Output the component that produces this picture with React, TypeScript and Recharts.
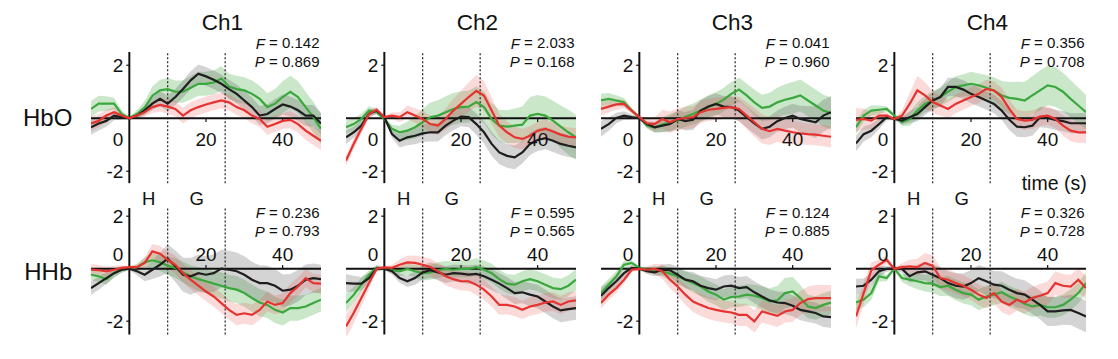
import React from 'react';
import { ComposedChart, Line, Area, XAxis, YAxis, ReferenceLine, ReferenceDot } from 'recharts';

// ---------------- data ----------------
const TIME = [-10, -8, -6, -4, -2, 0, 2, 4, 6, 8, 10, 12, 14, 16, 18, 20, 22, 24, 26, 28, 30, 32, 34, 36, 38, 40, 42, 44, 46, 48, 50];
const CHANNELS = ['Ch1', 'Ch2', 'Ch3', 'Ch4'];
const ROW_LABELS = ['HbO', 'HHb'];
const F_HBO = ['0.142', '2.033', '0.041', '0.356'];
const P_HBO = ['0.869', '0.168', '0.960', '0.708'];
const F_HHB = ['0.236', '0.595', '0.124', '0.326'];
const P_HHB = ['0.793', '0.565', '0.885', '0.728'];
const X_TICKS = [0, 20, 40];
const Y_TICKS = [2, -2];
const MARKERS = [10, 25];
const PHASES = [{ label: 'H', t: 5 }, { label: 'G', t: 17.5 }];
const X_LABEL = 'time (s)';

// Ch1 HbO
const c1_hbo_k = [-0.34, -0.2, -0.1, 0.1, 0.04, 0, 0.1, 0.3, 0.55, 0.73, 0.55, 0.8, 1.1, 1.43, 1.68, 1.58, 1.45, 1.3, 1.1, 0.92, 0.67, 0.42, 0.1, 0.16, 0.35, 0.52, 0.44, 0.3, 0.1, 0.1, -0.2];
const c1_hbo_g = [0.35, 0.55, 0.55, 0.55, 0.16, 0, 0.16, 0.4, 0.85, 1.05, 1.1, 1.0, 1.0, 1.15, 1.3, 1.3, 1.35, 1.5, 1.2, 1.1, 1.05, 0.92, 0.73, 0.42, 0.55, 0.8, 1.0, 0.8, 0.42, 0.04, -0.4];
const c1_hbo_r = [-0.2, -0.1, 0.1, 0.23, 0.1, 0, 0.1, 0.23, 0.42, 0.5, 0.44, 0.35, 0.1, 0.3, 0.42, 0.52, 0.6, 0.67, 0.6, 0.42, 0.3, 0.1, -0.03, -0.32, -0.22, -0.1, -0.06, -0.22, -0.47, -0.66, -0.85];
const c1_hbo_ks = [0.28, 0.26, 0.22, 0.18, 0.1, 0.05, 0.12, 0.18, 0.24, 0.28, 0.3, 0.3, 0.32, 0.34, 0.35, 0.35, 0.35, 0.35, 0.35, 0.35, 0.36, 0.36, 0.36, 0.36, 0.38, 0.38, 0.38, 0.4, 0.4, 0.4, 0.4];
const c1_hbo_gs = [0.3, 0.3, 0.28, 0.22, 0.14, 0.05, 0.15, 0.25, 0.35, 0.4, 0.42, 0.42, 0.42, 0.44, 0.45, 0.45, 0.45, 0.46, 0.48, 0.5, 0.5, 0.5, 0.5, 0.52, 0.55, 0.6, 0.6, 0.6, 0.58, 0.58, 0.58];
const c1_hbo_rs = [0.28, 0.25, 0.22, 0.18, 0.12, 0.05, 0.12, 0.18, 0.22, 0.25, 0.27, 0.28, 0.3, 0.3, 0.3, 0.3, 0.3, 0.3, 0.3, 0.3, 0.3, 0.3, 0.3, 0.3, 0.3, 0.3, 0.32, 0.32, 0.34, 0.35, 0.35];

// Ch1 HHb
const c1_hhb_k = [-0.74, -0.55, -0.36, -0.17, -0.04, 0, -0.1, -0.23, -0.04, 0.15, 0.38, 0.09, -0.23, -0.29, -0.17, -0.23, -0.17, 0, -0.04, -0.1, -0.23, -0.42, -0.55, -0.55, -0.65, -0.84, -0.8, -0.65, -0.42, -0.36, -0.4];
const c1_hhb_g = [-0.23, -0.29, -0.4, -0.17, -0.04, 0, 0.06, 0.24, 0.32, 0.24, 0.11, 0.03, -0.14, -0.29, -0.4, -0.48, -0.57, -0.65, -0.74, -0.8, -0.93, -1.12, -1.29, -1.38, -1.57, -1.67, -1.5, -1.5, -1.44, -1.31, -1.18];
const c1_hhb_r = [-0.04, -0.06, -0.1, -0.04, 0.03, 0.06, 0.06, 0.22, 0.66, 0.57, 0.34, 0.15, -0.17, -0.42, -0.65, -0.87, -1.06, -1.31, -1.57, -1.76, -1.7, -1.76, -1.57, -1.25, -1.38, -1.31, -0.93, -0.68, -0.36, -0.55, -0.57];
const c1_hhb_ks = [0.25, 0.25, 0.22, 0.18, 0.12, 0.05, 0.15, 0.25, 0.35, 0.45, 0.55, 0.6, 0.65, 0.7, 0.7, 0.7, 0.72, 0.72, 0.72, 0.72, 0.7, 0.68, 0.68, 0.66, 0.64, 0.62, 0.6, 0.6, 0.58, 0.56, 0.55];
const c1_hhb_gs = [0.22, 0.22, 0.2, 0.16, 0.1, 0.05, 0.12, 0.2, 0.28, 0.32, 0.35, 0.38, 0.4, 0.42, 0.45, 0.45, 0.48, 0.5, 0.5, 0.52, 0.52, 0.52, 0.52, 0.5, 0.5, 0.5, 0.48, 0.48, 0.45, 0.45, 0.45];
const c1_hhb_rs = [0.22, 0.2, 0.18, 0.15, 0.1, 0.05, 0.12, 0.2, 0.28, 0.3, 0.32, 0.34, 0.35, 0.36, 0.36, 0.36, 0.38, 0.38, 0.38, 0.4, 0.4, 0.4, 0.38, 0.38, 0.36, 0.36, 0.36, 0.35, 0.35, 0.35, 0.35];

// Ch2 HbO
const c2_hbo_k = [-0.72, -0.53, -0.28, 0.16, 0.29, 0.04, -0.6, -0.85, -0.72, -0.66, -0.57, -0.53, -0.53, -0.28, -0.09, 0.06, 0.04, -0.22, -0.53, -0.97, -1.29, -1.42, -1.48, -1.29, -0.97, -0.82, -0.75, -0.85, -0.97, -1.04, -1.1];
const c2_hbo_g = [-0.34, -0.22, -0.03, 0.29, 0.23, -0.03, -0.4, -0.53, -0.47, -0.34, -0.15, 0.04, 0.1, 0.23, 0.35, 0.42, 0.44, 0.61, 0.42, -0.03, -0.28, -0.32, -0.28, -0.24, 0.1, 0.16, 0.1, -0.09, -0.32, -0.53, -0.72];
const c2_hbo_r = [-1.6, -0.97, -0.4, 0.16, 0.32, 0.04, 0.1, 0.04, 0.23, 0.1, -0.03, -0.22, -0.28, -0.03, 0.29, 0.54, 0.8, 1.03, 0.86, 0.29, -0.28, -0.53, -0.72, -0.78, -0.66, -0.47, -0.4, -0.5, -0.62, -0.7, -0.72];
const c2_hbo_ks = [0.25, 0.22, 0.2, 0.15, 0.1, 0.05, 0.15, 0.25, 0.3, 0.32, 0.33, 0.35, 0.35, 0.35, 0.36, 0.36, 0.38, 0.4, 0.42, 0.45, 0.45, 0.45, 0.45, 0.42, 0.42, 0.42, 0.42, 0.42, 0.42, 0.42, 0.42];
const c2_hbo_gs = [0.25, 0.22, 0.2, 0.16, 0.1, 0.05, 0.15, 0.25, 0.35, 0.42, 0.5, 0.55, 0.58, 0.6, 0.6, 0.6, 0.6, 0.6, 0.6, 0.6, 0.6, 0.62, 0.65, 0.68, 0.7, 0.72, 0.72, 0.75, 0.8, 0.85, 0.85];
const c2_hbo_rs = [0.2, 0.2, 0.18, 0.15, 0.12, 0.05, 0.12, 0.18, 0.25, 0.28, 0.3, 0.32, 0.35, 0.4, 0.45, 0.5, 0.55, 0.6, 0.55, 0.5, 0.45, 0.42, 0.4, 0.38, 0.36, 0.35, 0.35, 0.35, 0.35, 0.35, 0.35];

// Ch2 HHb
const c2_hhb_k = [-0.55, -0.57, -0.57, -0.36, 0, 0, -0.1, -0.36, -0.48, -0.36, -0.14, -0.06, -0.14, -0.23, -0.17, -0.19, -0.23, -0.2, -0.29, -0.42, -0.57, -0.74, -0.93, -0.9, -0.99, -1.06, -1.25, -1.44, -1.59, -1.54, -1.5];
const c2_hhb_g = [-1.31, -1.0, -0.61, -0.23, 0.03, 0, -0.06, -0.1, -0.01, -0.1, -0.17, -0.14, -0.06, -0.01, -0.04, -0.01, -0.01, 0.06, -0.04, -0.17, -0.4, -0.57, -0.61, -0.48, -0.4, -0.48, -0.61, -0.74, -0.78, -0.65, -0.42];
const c2_hhb_r = [-2.2, -1.69, -1.12, -0.55, 0, 0.05, 0.03, 0.15, 0.24, 0.22, 0.15, 0.06, -0.1, -0.29, -0.4, -0.48, -0.48, -0.61, -0.8, -1.06, -1.38, -1.38, -1.44, -1.57, -1.44, -1.38, -1.29, -1.25, -1.38, -1.25, -1.21];
const c2_hhb_ks = [0.35, 0.3, 0.25, 0.2, 0.12, 0.05, 0.12, 0.18, 0.22, 0.25, 0.28, 0.3, 0.3, 0.32, 0.32, 0.34, 0.35, 0.36, 0.38, 0.4, 0.4, 0.42, 0.42, 0.42, 0.44, 0.45, 0.45, 0.45, 0.45, 0.45, 0.45];
const c2_hhb_gs = [0.35, 0.3, 0.25, 0.18, 0.1, 0.05, 0.12, 0.18, 0.22, 0.25, 0.28, 0.28, 0.3, 0.3, 0.3, 0.32, 0.32, 0.34, 0.35, 0.36, 0.36, 0.36, 0.38, 0.38, 0.38, 0.38, 0.4, 0.4, 0.4, 0.4, 0.4];
const c2_hhb_rs = [0.45, 0.4, 0.32, 0.22, 0.12, 0.05, 0.12, 0.2, 0.25, 0.28, 0.3, 0.32, 0.32, 0.34, 0.35, 0.35, 0.36, 0.38, 0.38, 0.38, 0.38, 0.36, 0.36, 0.35, 0.35, 0.35, 0.35, 0.35, 0.35, 0.35, 0.35];

// Ch3 HbO
const c3_hbo_k = [-0.4, -0.22, 0.01, 0.1, 0.04, 0, -0.22, -0.34, -0.28, -0.22, -0.03, -0.11, -0.06, 0.29, 0.44, 0.54, 0.44, 0.42, 0.29, 0.04, -0.19, -0.4, -0.32, -0.11, 0.01, 0.1, -0.03, -0.09, -0.15, 0.1, 0.23];
const c3_hbo_g = [0.67, 0.73, 0.67, 0.6, 0.29, 0.04, -0.28, -0.34, -0.24, -0.15, -0.09, 0.06, 0.16, 0.29, 0.42, 0.54, 0.7, 0.92, 1.08, 0.86, 0.6, 0.39, 0.44, 0.6, 0.7, 0.77, 0.86, 0.67, 0.48, 0.29, 0.19];
const c3_hbo_r = [0.35, 0.44, 0.52, 0.54, 0.29, 0.04, -0.19, -0.22, -0.03, -0.15, -0.03, 0.01, 0.04, 0.23, 0.32, 0.35, 0.39, 0.42, 0.35, 0.1, -0.15, -0.4, -0.49, -0.4, -0.47, -0.53, -0.57, -0.6, -0.62, -0.66, -0.7];
const c3_hbo_ks = [0.3, 0.25, 0.2, 0.16, 0.1, 0.05, 0.12, 0.2, 0.25, 0.3, 0.32, 0.35, 0.38, 0.4, 0.4, 0.4, 0.4, 0.4, 0.4, 0.4, 0.4, 0.4, 0.4, 0.4, 0.42, 0.45, 0.5, 0.55, 0.6, 0.6, 0.6];
const c3_hbo_gs = [0.25, 0.22, 0.2, 0.16, 0.1, 0.05, 0.12, 0.2, 0.28, 0.32, 0.35, 0.38, 0.4, 0.42, 0.45, 0.45, 0.45, 0.45, 0.45, 0.45, 0.48, 0.5, 0.52, 0.55, 0.58, 0.6, 0.6, 0.6, 0.6, 0.6, 0.6];
const c3_hbo_rs = [0.25, 0.22, 0.2, 0.16, 0.1, 0.05, 0.15, 0.25, 0.35, 0.4, 0.42, 0.42, 0.42, 0.42, 0.42, 0.42, 0.42, 0.42, 0.45, 0.5, 0.55, 0.55, 0.52, 0.5, 0.48, 0.45, 0.42, 0.4, 0.4, 0.4, 0.4];

// Ch3 HHb
const c3_hhb_k = [-1.03, -0.74, -0.48, -0.17, 0.03, 0, -0.1, -0.14, -0.04, -0.06, -0.23, -0.42, -0.48, -0.65, -0.74, -0.8, -0.68, -0.65, -0.74, -0.7, -0.9, -1.06, -1.21, -1.29, -1.31, -1.41, -1.57, -1.63, -1.69, -1.82, -1.85];
const c3_hhb_g = [-0.93, -0.61, -0.29, 0.15, 0.22, 0.03, -0.04, -0.06, -0.1, -0.19, -0.29, -0.42, -0.55, -0.68, -0.87, -0.99, -1.18, -1.08, -1.06, -0.99, -1.03, -1.12, -1.25, -1.21, -0.93, -0.87, -1.12, -1.44, -1.5, -1.38, -1.29];
const c3_hhb_r = [-1.31, -0.99, -0.74, -0.42, -0.04, -0.01, -0.04, -0.01, -0.1, -0.42, -0.68, -0.99, -1.25, -1.38, -1.5, -1.57, -1.63, -1.67, -1.76, -1.76, -2.01, -1.63, -1.72, -1.8, -1.63, -1.57, -1.31, -1.16, -1.12, -1.12, -1.12];
const c3_hhb_ks = [0.3, 0.25, 0.2, 0.15, 0.1, 0.05, 0.1, 0.15, 0.2, 0.25, 0.3, 0.32, 0.35, 0.38, 0.4, 0.4, 0.42, 0.42, 0.42, 0.42, 0.42, 0.42, 0.42, 0.42, 0.42, 0.4, 0.4, 0.4, 0.4, 0.4, 0.4];
const c3_hhb_gs = [0.25, 0.22, 0.2, 0.15, 0.1, 0.05, 0.1, 0.15, 0.2, 0.25, 0.3, 0.32, 0.35, 0.38, 0.4, 0.4, 0.4, 0.4, 0.4, 0.4, 0.42, 0.45, 0.5, 0.55, 0.58, 0.55, 0.5, 0.45, 0.45, 0.45, 0.45];
const c3_hhb_rs = [0.22, 0.2, 0.18, 0.15, 0.1, 0.05, 0.12, 0.2, 0.28, 0.32, 0.35, 0.38, 0.4, 0.42, 0.42, 0.42, 0.42, 0.42, 0.42, 0.42, 0.42, 0.42, 0.42, 0.42, 0.42, 0.45, 0.45, 0.48, 0.5, 0.5, 0.5];

// Ch4 HbO
const c4_hbo_k = [-0.95, -0.6, -0.47, -0.22, 0.04, -0.03, -0.09, 0.04, 0.16, 0.42, 0.67, 0.8, 1.18, 1.18, 1.08, 0.92, 0.8, 0.67, 0.54, 0.29, -0.06, -0.32, -0.34, -0.28, 0.04, 0.01, -0.06, -0.11, -0.19, -0.19, -0.19];
const c4_hbo_g = [-0.34, 0.1, 0.29, 0.32, 0.35, 0.1, -0.15, -0.03, 0.29, 0.54, 0.67, 0.8, 1.0, 1.18, 1.24, 1.3, 1.24, 1.15, 1.05, 0.86, 0.77, 0.73, 0.67, 0.86, 1.05, 1.24, 1.18, 1.0, 0.73, 0.48, 0.23];
const c4_hbo_r = [-0.06, -0.03, -0.09, 0.1, 0.1, -0.03, 0.1, 0.54, 1.05, 0.86, 0.61, 0.48, 0.35, 0.54, 0.67, 0.8, 0.92, 1.11, 1.05, 0.8, 0.35, -0.03, -0.09, -0.06, 0.06, 0.1, -0.03, -0.28, -0.47, -0.53, -0.53];
const c4_hbo_ks = [0.3, 0.28, 0.25, 0.2, 0.12, 0.05, 0.15, 0.22, 0.28, 0.3, 0.32, 0.35, 0.35, 0.35, 0.35, 0.35, 0.35, 0.35, 0.35, 0.35, 0.38, 0.38, 0.38, 0.38, 0.38, 0.38, 0.38, 0.38, 0.38, 0.38, 0.38];
const c4_hbo_gs = [0.25, 0.22, 0.2, 0.16, 0.1, 0.05, 0.15, 0.25, 0.3, 0.32, 0.35, 0.35, 0.38, 0.4, 0.42, 0.45, 0.45, 0.48, 0.5, 0.55, 0.6, 0.65, 0.7, 0.72, 0.75, 0.75, 0.75, 0.72, 0.7, 0.68, 0.65];
const c4_hbo_rs = [0.45, 0.4, 0.32, 0.22, 0.12, 0.05, 0.2, 0.4, 0.55, 0.5, 0.42, 0.38, 0.35, 0.35, 0.35, 0.35, 0.35, 0.35, 0.35, 0.35, 0.35, 0.35, 0.35, 0.35, 0.35, 0.35, 0.35, 0.38, 0.4, 0.4, 0.4];

// Ch4 HHb
const c4_hhb_k = [-0.68, -0.65, -0.42, -0.1, -0.01, 0, -0.01, -0.29, -0.14, -0.1, -0.23, -0.36, -0.55, -0.65, -0.68, -0.55, -0.36, -0.48, -0.61, -0.65, -0.8, -0.93, -0.99, -1.18, -1.38, -1.63, -1.63, -1.59, -1.57, -1.69, -1.82];
const c4_hhb_g = [-1.29, -1.18, -0.93, -0.29, -0.36, 0, -0.36, -0.42, -0.48, -0.55, -0.57, -0.7, -0.65, -0.8, -0.93, -0.99, -1.18, -1.06, -0.99, -0.9, -1.06, -1.18, -1.34, -1.44, -1.38, -1.47, -1.47, -1.38, -1.18, -0.93, -0.55];
const c4_hhb_r = [-1.82, -0.93, -0.06, 0.15, 0.34, -0.01, 0.06, 0.09, 0.06, 0.22, 0.11, -0.36, -0.42, -0.55, -0.65, -0.8, -0.99, -1.12, -0.93, -1.25, -1.38, -1.18, -1.29, -1.12, -1.03, -0.93, -0.55, -0.65, -0.68, -0.42, -0.74];
const c4_hhb_ks = [0.3, 0.28, 0.25, 0.2, 0.12, 0.05, 0.15, 0.25, 0.3, 0.35, 0.4, 0.42, 0.45, 0.48, 0.5, 0.5, 0.5, 0.52, 0.52, 0.55, 0.55, 0.55, 0.55, 0.55, 0.55, 0.55, 0.55, 0.55, 0.58, 0.6, 0.6];
const c4_hhb_gs = [0.3, 0.28, 0.25, 0.2, 0.12, 0.05, 0.15, 0.25, 0.3, 0.32, 0.35, 0.35, 0.38, 0.4, 0.4, 0.4, 0.4, 0.4, 0.4, 0.4, 0.4, 0.4, 0.4, 0.4, 0.4, 0.4, 0.4, 0.4, 0.4, 0.4, 0.4];
const c4_hhb_rs = [0.45, 0.4, 0.3, 0.2, 0.15, 0.05, 0.15, 0.25, 0.32, 0.38, 0.4, 0.4, 0.4, 0.4, 0.4, 0.4, 0.4, 0.4, 0.4, 0.4, 0.4, 0.42, 0.42, 0.42, 0.45, 0.45, 0.45, 0.45, 0.45, 0.45, 0.45];

// ---------------- layout / style ----------------
const FONT = '"Liberation Sans", Arial, Helvetica, sans-serif';
const C_BLACK = '#1e1e1e';
const C_GREEN = '#3aa83c';
const C_RED = '#e63330';
const PLOT_W = 230;
const COL_STEP = 255;
const LEFT0 = 91.2;
const X_DOMAIN: [number, number] = [-10, 50];
const TICK_FS = 19;

const ROWS = [
  { top: 51.75, height: 133.8, domain: [-2.55, 2.5] as [number, number], axis: [-2.45, 2.5], labelDy: 21.5, tickLen: -0.14 },
  { top: 207.3, height: 128.6, domain: [-2.55, 2.35] as [number, number], axis: [-2.51, 2.31], labelDy: -14, tickLen: 0.14 },
];

type S = { k: number[]; g: number[]; r: number[]; ks: number[]; gs: number[]; rs: number[] };

const PANELS: S[][] = [
  [
    { k: c1_hbo_k, g: c1_hbo_g, r: c1_hbo_r, ks: c1_hbo_ks, gs: c1_hbo_gs, rs: c1_hbo_rs },
    { k: c2_hbo_k, g: c2_hbo_g, r: c2_hbo_r, ks: c2_hbo_ks, gs: c2_hbo_gs, rs: c2_hbo_rs },
    { k: c3_hbo_k, g: c3_hbo_g, r: c3_hbo_r, ks: c3_hbo_ks, gs: c3_hbo_gs, rs: c3_hbo_rs },
    { k: c4_hbo_k, g: c4_hbo_g, r: c4_hbo_r, ks: c4_hbo_ks, gs: c4_hbo_gs, rs: c4_hbo_rs },
  ],
  [
    { k: c1_hhb_k, g: c1_hhb_g, r: c1_hhb_r, ks: c1_hhb_ks, gs: c1_hhb_gs, rs: c1_hhb_rs },
    { k: c2_hhb_k, g: c2_hhb_g, r: c2_hhb_r, ks: c2_hhb_ks, gs: c2_hhb_gs, rs: c2_hhb_rs },
    { k: c3_hhb_k, g: c3_hhb_g, r: c3_hhb_r, ks: c3_hhb_ks, gs: c3_hhb_gs, rs: c3_hhb_rs },
    { k: c4_hhb_k, g: c4_hhb_g, r: c4_hhb_r, ks: c4_hhb_ks, gs: c4_hhb_gs, rs: c4_hhb_rs },
  ],
];

function buildRows(s: S) {
  return TIME.map((t, i) => ({
    t,
    k: s.k[i],
    g: s.g[i],
    r: s.r[i],
    kb: [s.k[i] - s.ks[i], s.k[i] + s.ks[i]],
    gb: [s.g[i] - s.gs[i], s.g[i] + s.gs[i]],
    rb: [s.r[i] - s.rs[i], s.r[i] + s.rs[i]],
  }));
}

const xTickLabel = (v: number, dy: number) => (props: any) => {
  const vb = props.viewBox || {};
  const cx = (vb.x ?? 0) + (vb.width ?? 0) / 2;
  const cy = (vb.y ?? 0) + (vb.height ?? 0) / 2;
  const zero = v === 0;
  return (
    <text x={zero ? cx - 6 : cx} y={cy + dy} textAnchor={zero ? 'end' : 'middle'} dominantBaseline="central"
      fontSize={TICK_FS} fill="#111" fontFamily={FONT}>{String(v)}</text>
  );
};

const yTickLabel = (v: number) => (props: any) => {
  const vb = props.viewBox || {};
  const cx = (vb.x ?? 0) + (vb.width ?? 0) / 2;
  const cy = (vb.y ?? 0) + (vb.height ?? 0) / 2;
  return (
    <text x={cx - 6} y={cy} textAnchor="end" dominantBaseline="central" fontSize={TICK_FS} fill="#111" fontFamily={FONT}>{String(v)}</text>
  );
};

function Panel({ row, col }: { row: number; col: number }) {
  const g = ROWS[row];
  const data = buildRows(PANELS[row][col]);
  const left = LEFT0 + COL_STEP * col;
  return (
    <div style={{ position: 'absolute', left, top: g.top, width: PLOT_W, height: g.height }}>
      <ComposedChart width={PLOT_W} height={g.height} data={data} margin={{ top: 0, right: 0, bottom: 0, left: 0 }}>
        <XAxis type="number" dataKey="t" domain={X_DOMAIN} hide allowDataOverflow />
        <YAxis type="number" domain={g.domain} hide allowDataOverflow />
        <Area type="linear" dataKey="gb" stroke="none" fill={C_GREEN} fillOpacity={0.27} isAnimationActive={false} dot={false} activeDot={false} />
        <Area type="linear" dataKey="kb" stroke="none" fill="#555555" fillOpacity={0.25} isAnimationActive={false} dot={false} activeDot={false} />
        <Area type="linear" dataKey="rb" stroke="none" fill="#ee5555" fillOpacity={0.22} isAnimationActive={false} dot={false} activeDot={false} />
        <ReferenceLine y={0} stroke="#111" strokeWidth={2} />
        <ReferenceLine segment={[{ x: 0, y: g.axis[0] }, { x: 0, y: g.axis[1] }]} stroke="#111" strokeWidth={2} />
        {MARKERS.map((m) => (
          <ReferenceLine key={'m' + m} segment={[{ x: m, y: g.axis[0] }, { x: m, y: g.axis[1] }]} stroke="#222" strokeWidth={1.2} strokeDasharray="2 2" />
        ))}
        {X_TICKS.filter((v) => v !== 0).map((v) => (
          <ReferenceLine key={'xt' + v} segment={[{ x: v, y: 0 }, { x: v, y: g.tickLen }]} stroke="#111" strokeWidth={1.2} />
        ))}
        {Y_TICKS.map((v) => (
          <ReferenceLine key={'yt' + v} segment={[{ x: -0.8, y: v }, { x: 0, y: v }]} stroke="#111" strokeWidth={1.2} />
        ))}
        {X_TICKS.map((v) => (
          <ReferenceDot key={'xl' + v} x={v} y={0} r={0} fill="none" stroke="none" label={xTickLabel(v, g.labelDy)} />
        ))}
        {Y_TICKS.map((v) => (
          <ReferenceDot key={'yl' + v} x={0} y={v} r={0} fill="none" stroke="none" label={yTickLabel(v)} />
        ))}
        <Line type="linear" dataKey="g" stroke={C_GREEN} strokeWidth={2.2} dot={false} activeDot={false} isAnimationActive={false} />
        <Line type="linear" dataKey="k" stroke={C_BLACK} strokeWidth={2.2} dot={false} activeDot={false} isAnimationActive={false} />
        <Line type="linear" dataKey="r" stroke={C_RED} strokeWidth={2.2} dot={false} activeDot={false} isAnimationActive={false} />
      </ComposedChart>
    </div>
  );
}

const xPix = (col: number, t: number) => LEFT0 + COL_STEP * col + ((t - X_DOMAIN[0]) / (X_DOMAIN[1] - X_DOMAIN[0])) * PLOT_W;

function Overlay() {
  return (
    <svg width={1118} height={359} style={{ position: 'absolute', left: 0, top: 0, pointerEvents: 'none' }} fontFamily={FONT}>
      {CHANNELS.map((c, i) => (
        <text key={c} x={222.5 + COL_STEP * i} y={22.5} textAnchor="middle" dominantBaseline="central" fontSize={22.5} fill="#111">{c}</text>
      ))}
      <text x={47.7} y={117.7} textAnchor="middle" dominantBaseline="central" fontSize={24} fill="#111">{ROW_LABELS[0]}</text>
      <text x={48.3} y={271.5} textAnchor="middle" dominantBaseline="central" fontSize={24} fill="#111">{ROW_LABELS[1]}</text>
      {CHANNELS.map((c, i) => (
        <g key={'fp' + c} fontSize={15} fill="#111">
          <text x={319.5 + COL_STEP * i} y={42.7} textAnchor="end" dominantBaseline="central"><tspan fontStyle="italic">F</tspan>{` = ${F_HBO[i]}`}</text>
          <text x={319.5 + COL_STEP * i} y={61} textAnchor="end" dominantBaseline="central"><tspan fontStyle="italic">P</tspan>{` = ${P_HBO[i]}`}</text>
          <text x={319.5 + COL_STEP * i} y={212.3} textAnchor="end" dominantBaseline="central"><tspan fontStyle="italic">F</tspan>{` = ${F_HHB[i]}`}</text>
          <text x={319.5 + COL_STEP * i} y={230.7} textAnchor="end" dominantBaseline="central"><tspan fontStyle="italic">P</tspan>{` = ${P_HHB[i]}`}</text>
        </g>
      ))}
      {CHANNELS.map((c, i) =>
        PHASES.map((p) => (
          <text key={c + p.label} x={xPix(i, p.t)} y={198.3} textAnchor="middle" dominantBaseline="central" fontSize={18.5} fill="#111">{p.label}</text>
        ))
      )}
      <text x={1086.7} y={183.3} textAnchor="end" dominantBaseline="central" fontSize={19.5} fill="#111">{X_LABEL}</text>
    </svg>
  );
}

export default function App() {
  return (
    <div style={{ position: 'absolute', left: 0, top: 0, width: 1118, height: 359, background: '#fff', overflow: 'hidden' }}>
      {ROWS.map((_, r) => CHANNELS.map((_c, c) => <Panel key={r + '-' + c} row={r} col={c} />))}
      <Overlay />
    </div>
  );
}
